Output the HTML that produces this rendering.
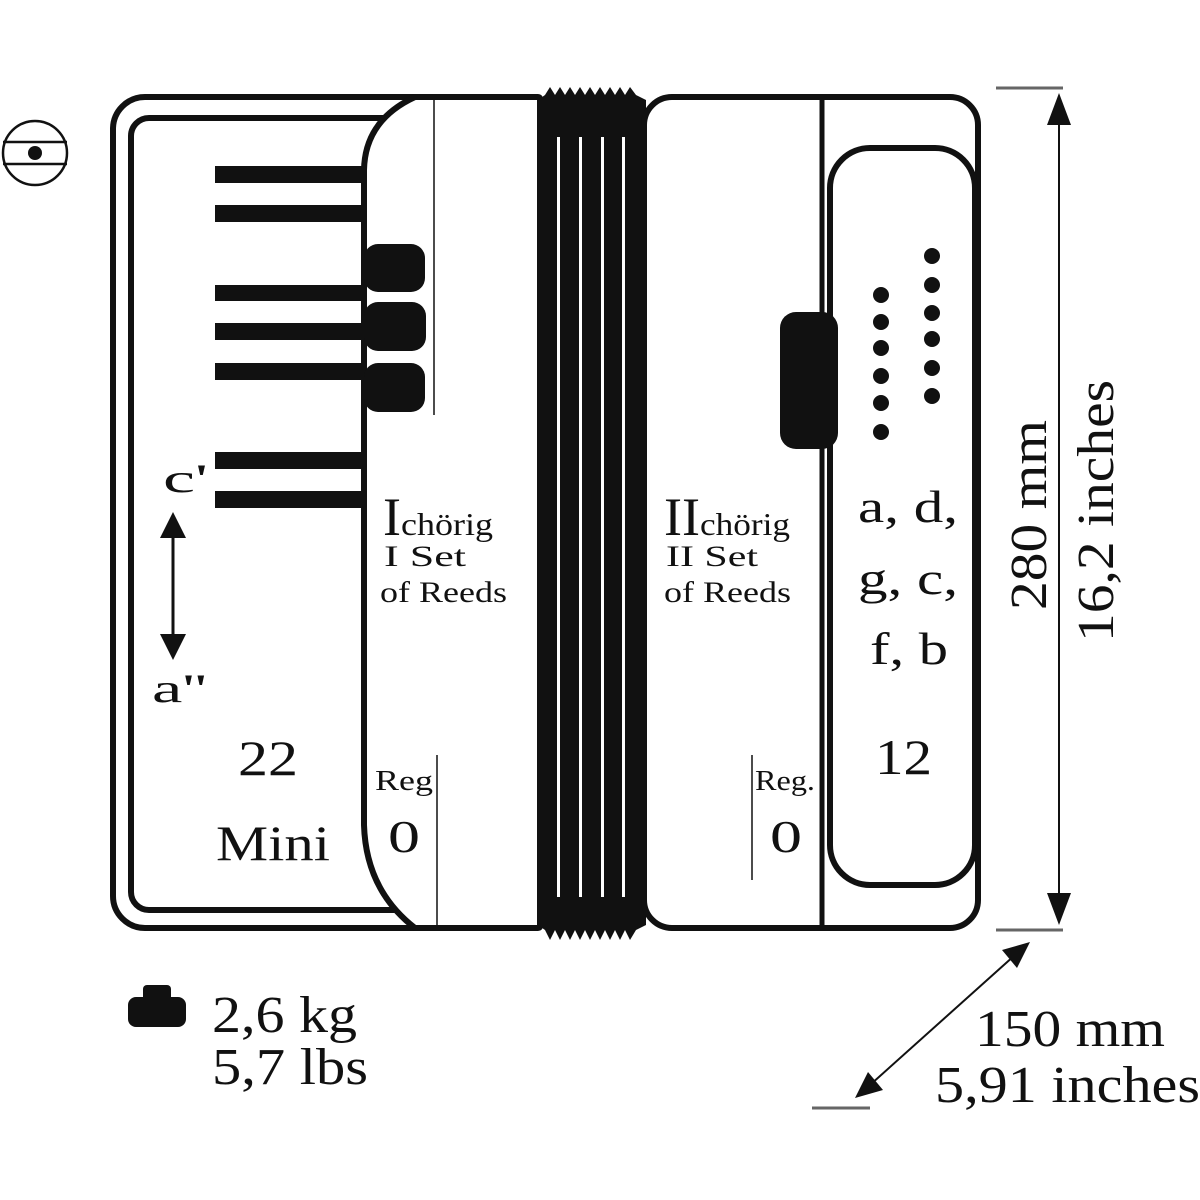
<!DOCTYPE html>
<html><head><meta charset="utf-8"><style>html,body{margin:0;padding:0;background:#fff}svg{display:block}</style></head>
<body>
<svg width="1200" height="1200" viewBox="0 0 1200 1200" xmlns="http://www.w3.org/2000/svg" font-family="Liberation Serif, serif" fill="#111">
<circle cx="35" cy="153" r="32" fill="none" stroke="#111" stroke-width="2.5"/>
<line x1="3" y1="142" x2="67" y2="142" stroke="#111" stroke-width="2.5"/>
<line x1="3" y1="164" x2="67" y2="164" stroke="#111" stroke-width="2.5"/>
<circle cx="35" cy="153" r="7"/>

<rect x="113" y="97" width="430" height="831" rx="32" fill="#fff" stroke="#111" stroke-width="6"/>
<rect x="131" y="118" width="300" height="792" rx="18" fill="#fff" stroke="#111" stroke-width="6"/>
<g>
<rect x="215" y="166" width="150" height="17"/>
<rect x="215" y="205" width="150" height="17"/>
<rect x="215" y="285" width="150" height="16"/>
<rect x="215" y="323" width="150" height="17"/>
<rect x="215" y="363" width="150" height="17"/>
<rect x="215" y="452" width="150" height="17"/>
<rect x="215" y="491" width="150" height="17"/>
</g>
<path d="M415 97 Q365 120 364 170 L364 825 Q366 890 415 928 L538 928 Q540 928 540 926 L540 99 Q540 97 538 97 Z" fill="#fff" stroke="#111" stroke-width="6"/>
<line x1="434" y1="100" x2="434" y2="415" stroke="#111" stroke-width="1.5"/>
<line x1="437" y1="755" x2="437" y2="925" stroke="#111" stroke-width="1.5"/>
<rect x="364" y="244" width="61" height="48" rx="14"/>
<rect x="364" y="302" width="62" height="49" rx="14"/>
<rect x="364" y="363" width="61" height="49" rx="14"/>

<path d="M538 100 L538 925 L545 930 L550 940 L555 930 L560 940 L565 930 L570 940 L575 930 L580 940 L585 930 L590 940 L595 930 L600 940 L605 930 L610 940 L615 930 L620 940 L625 930 L630 940 L636 930 L646 925 L646 100 L636 95 L630 87 L625 95 L620 87 L615 95 L610 87 L605 95 L600 87 L595 95 L590 87 L585 95 L580 87 L575 95 L570 87 L565 95 L560 87 L555 95 L550 87 L545 95 Z"/>
<rect x="557" y="137" width="3" height="760" fill="#fff"/>
<rect x="579" y="137" width="3" height="760" fill="#fff"/>
<rect x="601" y="137" width="3" height="760" fill="#fff"/>
<rect x="622" y="137" width="3" height="760" fill="#fff"/>

<rect x="644" y="97" width="334" height="831" rx="28" fill="#fff" stroke="#111" stroke-width="6"/>
<line x1="822" y1="98" x2="822" y2="928" stroke="#111" stroke-width="5"/>
<rect x="830" y="148" width="145" height="737" rx="40" fill="#fff" stroke="#111" stroke-width="6"/>
<rect x="780" y="312" width="58" height="137" rx="16"/>
<g>
<circle cx="881" cy="295" r="8"/><circle cx="881" cy="322" r="8"/><circle cx="881" cy="348" r="8"/>
<circle cx="881" cy="376" r="8"/><circle cx="881" cy="403" r="8"/><circle cx="881" cy="432" r="8"/>
<circle cx="932" cy="256" r="8"/><circle cx="932" cy="285" r="8"/><circle cx="932" cy="313" r="8"/>
<circle cx="932" cy="339" r="8"/><circle cx="932" cy="368" r="8"/><circle cx="932" cy="396" r="8"/>
</g>
<line x1="752" y1="755" x2="752" y2="880" stroke="#111" stroke-width="1.5"/>

<text x="163" y="492" font-size="40" textLength="45" lengthAdjust="spacingAndGlyphs">c'</text>
<line x1="173" y1="530" x2="173" y2="642" stroke="#111" stroke-width="3"/>
<polygon points="173,512 160,538 186,538"/>
<polygon points="173,660 160,634 186,634"/>
<text x="152" y="702" font-size="40" textLength="55" lengthAdjust="spacingAndGlyphs">a''</text>
<text x="238" y="775" font-size="50" textLength="60" lengthAdjust="spacingAndGlyphs">22</text>
<text x="216" y="860" font-size="50" textLength="114" lengthAdjust="spacingAndGlyphs">Mini</text>
<text x="383" y="535"><tspan font-size="54">I</tspan><tspan font-size="32" textLength="92" lengthAdjust="spacingAndGlyphs">chörig</tspan></text>
<text x="384" y="566" font-size="30" textLength="82" lengthAdjust="spacingAndGlyphs">I Set</text>
<text x="380" y="602" font-size="30" textLength="127" lengthAdjust="spacingAndGlyphs">of Reeds</text>
<text x="375" y="790" font-size="29" textLength="58" lengthAdjust="spacingAndGlyphs">Reg</text>
<text x="388" y="852" font-size="46" textLength="32" lengthAdjust="spacingAndGlyphs">0</text>

<text x="664" y="535"><tspan font-size="54" textLength="36" lengthAdjust="spacingAndGlyphs">II</tspan><tspan font-size="32" textLength="90" lengthAdjust="spacingAndGlyphs">chörig</tspan></text>
<text x="666" y="566" font-size="30" textLength="92" lengthAdjust="spacingAndGlyphs">II Set</text>
<text x="664" y="602" font-size="30" textLength="127" lengthAdjust="spacingAndGlyphs">of Reeds</text>
<text x="755" y="790" font-size="29" textLength="60" lengthAdjust="spacingAndGlyphs">Reg.</text>
<text x="770" y="852" font-size="46" textLength="32" lengthAdjust="spacingAndGlyphs">0</text>
<text x="858" y="522" font-size="46" textLength="100" lengthAdjust="spacingAndGlyphs">a, d,</text>
<text x="858" y="594" font-size="46" textLength="100" lengthAdjust="spacingAndGlyphs">g, c,</text>
<text x="870" y="664" font-size="46" textLength="78" lengthAdjust="spacingAndGlyphs">f, b</text>
<text x="875" y="774" font-size="50" textLength="57" lengthAdjust="spacingAndGlyphs">12</text>

<line x1="996" y1="88" x2="1063" y2="88" stroke="#666" stroke-width="3"/>
<line x1="996" y1="930" x2="1063" y2="930" stroke="#666" stroke-width="3"/>
<line x1="1059" y1="115" x2="1059" y2="900" stroke="#111" stroke-width="2"/>
<polygon points="1059,93 1047,125 1071,125"/>
<polygon points="1059,925 1047,893 1071,893"/>
<text transform="translate(1046,610) rotate(-90)" font-size="52" textLength="190" lengthAdjust="spacingAndGlyphs">280 mm</text>
<text transform="translate(1113,642) rotate(-90)" font-size="52" textLength="262" lengthAdjust="spacingAndGlyphs">16,2 inches</text>

<line x1="1015" y1="955" x2="870" y2="1085" stroke="#111" stroke-width="2"/>
<polygon points="1030,942 1002,950 1017,968"/>
<polygon points="855,1098 883,1090 868,1072"/>
<line x1="812" y1="1108" x2="870" y2="1108" stroke="#666" stroke-width="3"/>
<text x="975" y="1046" font-size="52" textLength="190" lengthAdjust="spacingAndGlyphs">150 mm</text>
<text x="935" y="1102" font-size="52" textLength="265" lengthAdjust="spacingAndGlyphs">5,91 inches</text>

<rect x="143" y="985" width="28" height="16" rx="4"/>
<rect x="128" y="997" width="58" height="30" rx="8"/>
<text x="212" y="1032" font-size="52" textLength="145" lengthAdjust="spacingAndGlyphs">2,6 kg</text>
<text x="212" y="1084" font-size="52" textLength="156" lengthAdjust="spacingAndGlyphs">5,7 lbs</text>
</svg>
</body></html>
